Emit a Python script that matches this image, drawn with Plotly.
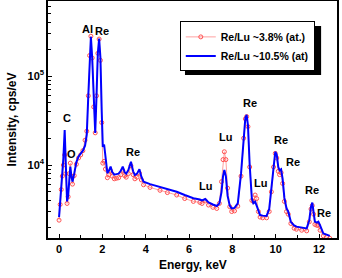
import math
import plotly.graph_objects as go

energy = [0.00, 0.05, 0.10, 0.15, 0.20, 0.26, 0.31, 0.37, 0.42, 0.47, 0.52, 0.57, 0.62, 0.70, 0.80,
          0.90, 1.00, 1.10, 1.20, 1.28, 1.35, 1.41, 1.47, 1.53, 1.60, 1.67, 1.73, 1.79, 1.85, 1.91,
          1.97, 2.02, 2.08, 2.14, 2.23, 2.30, 2.38, 2.45, 2.55, 2.65, 2.75, 2.85, 2.94, 3.03, 3.10,
          3.20, 3.32, 3.42, 3.50, 3.60, 3.71, 3.80, 3.90, 4.20, 4.66, 5.00, 5.43, 5.80, 6.20, 6.50,
          6.60, 6.75, 6.90, 7.10, 7.28, 7.40, 7.50, 7.57, 7.63, 7.70, 7.78, 7.88, 7.97, 8.10, 8.25,
          8.40, 8.52, 8.60, 8.66, 8.72, 8.80, 8.90, 8.97, 9.05, 9.12, 9.20, 9.28, 9.40, 9.58, 9.70,
          9.80, 9.90, 9.98, 10.05, 10.12, 10.18, 10.25, 10.32, 10.40, 10.50, 10.58, 10.70, 10.85, 10.96, 11.20,
          11.43, 11.55, 11.63, 11.69, 11.75, 11.81, 11.90, 11.97, 12.05, 12.20, 12.35, 12.50]

re_lu_10_5 = [2600, 3800, 5600, 8000, 12000, 24700, 9000, 3900, 4500, 7000, 9600, 7500, 6500, 8000, 10800,
              12500, 13500, 14500, 16500, 22000, 60000, 170000, 276000, 160000, 45000, 22900, 60000, 180000, 264000, 160000,
              40000, 16000, 17000, 12000, 8100, 8600, 9600, 8400, 7800, 7900, 8000, 8600, 9600, 8300, 8000,
              8800, 10900, 8500, 7700, 8000, 8950, 7400, 6500, 6100, 5700, 5350, 5000, 4600, 4230, 4100,
              4000, 4150, 3800, 3600, 3460, 3700, 5000, 7500, 8790, 7500, 4500, 3500, 3260, 3300, 3700,
              8000, 22000, 34000, 36500, 28000, 10000, 4200, 3720, 3870, 3500, 3000, 2740, 2700, 2680, 3200,
              5500, 10000, 14100, 13000, 9500, 8700, 8950, 7000, 4300, 3260, 3000, 2300, 2100, 2030, 2000,
              1940, 2400, 3400, 3780, 3000, 2310, 2250, 2310, 2100, 1700, 1650, 1600]

re_lu_3_8 = [2400, 3600, 5300, 7500, 10000, 13000, 8000, 3700, 4400, 8000, 10500, 7500, 6100, 7600, 10200,
             12000, 13000, 14500, 19000, 24000, 60000, 170000, 280000, 160000, 45000, 23000, 60000, 180000, 260000, 150000,
             30000, 10500, 11000, 9000, 7200, 7800, 8600, 7500, 7000, 7100, 7200, 7800, 8700, 7600, 7300,
             8000, 9800, 7800, 7000, 7300, 8100, 6800, 6000, 5600, 5200, 4900, 4600, 4200, 3900, 3800,
             3700, 3950, 3550, 3350, 3250, 3700, 6500, 11500, 14100, 11500, 5500, 3400, 3000, 3050, 3450,
             7500, 20000, 33000, 35000, 27000, 9500, 4000, 3900, 4600, 4200, 3000, 2600, 2550, 2550, 3000,
             5000, 9500, 13500, 12000, 8500, 7800, 8200, 6200, 3900, 3000, 2800, 2200, 1950, 1900, 1850,
             1820, 2300, 3200, 3500, 2800, 2150, 2100, 2100, 1850, 1600, 1550, 1500]

series_names = ["Re/Lu ~3.8% (at.)", "Re/Lu ~10.5% (at)"]

peak_labels = ["C", "O", "Al", "Re", "Re", "Lu", "Lu", "Re", "Lu", "Re", "Re", "Re", "Re"]
peak_label_x = [0.38, 0.57, 1.31, 2.0, 3.43, 6.78, 7.68, 8.81, 9.28, 10.23, 10.81, 11.66, 12.23]
peak_label_y = [33500, 13300, 335000, 324000, 13900, 5810, 20500, 49300, 6220, 19100, 10900, 5230, 2910]

x_ticks = [0, 2, 4, 6, 8, 10, 12]
y_major = [1e4, 1e5]
y_major_text = ["10<sup>4</sup>", "10<sup>5</sup>"]
y_minor = [2e3, 3e3, 4e3, 5e3, 6e3, 7e3, 8e3, 9e3,
           2e4, 3e4, 4e4, 5e4, 6e4, 7e4, 8e4, 9e4,
           2e5, 3e5, 4e5, 5e5, 6e5, 7e5]

FONT = "Liberation Sans, Arial, sans-serif"

fig = go.Figure()
fig.add_trace(go.Scatter(
    x=energy, y=re_lu_3_8, name=series_names[0], mode="lines+markers",
    line=dict(color="#ffa0a0", width=1),
    marker=dict(symbol="circle-open", size=4, color="#ff5050", line=dict(width=1)),
))
fig.add_trace(go.Scatter(
    x=energy, y=re_lu_10_5, name=series_names[1], mode="lines",
    line=dict(color="#0000ff", width=2),
))

for t, x, y in zip(peak_labels, peak_label_x, peak_label_y):
    fig.add_annotation(x=x, y=math.log10(y), yref="y", xref="x", text=f"<b>{t}</b>", showarrow=False,
                       font=dict(family=FONT, size=11, color="black"))

# axis titles
fig.add_annotation(x=0.5, y=-0.114, xref="paper", yref="paper", text="<b>Energy, keV</b>",
                   showarrow=False, yanchor="middle", font=dict(family=FONT, size=12, color="black"))
fig.add_annotation(x=-0.125, y=0.5, xref="paper", yref="paper", text="<b>Intensity, cps/eV</b>",
                   textangle=-90, showarrow=False, xanchor="center",
                   font=dict(family=FONT, size=12, color="black"))

# legend drop shadow
fig.add_shape(type="rect", xref="paper", yref="paper", x0=0.474, x1=0.945, y0=0.688, y1=0.895,
              fillcolor="black", line=dict(width=0), layer="below")

fig.update_layout(
    width=342, height=278,
    margin=dict(l=48, r=5, t=1, b=40, autoexpand=False),
    paper_bgcolor="white", plot_bgcolor="white",
    font=dict(family=FONT, size=11, color="black"),
    showlegend=True,
    legend=dict(x=0.456, y=0.914, xanchor="left", yanchor="top",
                bgcolor="white", bordercolor="black", borderwidth=1,
                font=dict(family=FONT, size=10.5, color="black", weight="bold"),
                itemwidth=30, tracegroupgap=0),
)
fig.update_xaxes(
    range=[-0.51, 12.83], showgrid=False, zeroline=False, automargin=False,
    showline=True, linecolor="black", linewidth=1.5, mirror=True,
    ticks="inside", ticklen=4, tickwidth=1.2, tickcolor="black",
    tickvals=x_ticks, ticktext=[f"<b>{v}</b>" for v in x_ticks],
    tickfont=dict(family=FONT, size=11),
    minor=dict(dtick=1, tick0=0, ticks="inside", ticklen=3, tickcolor="black", showgrid=False),
)
fig.update_yaxes(
    type="log", range=[3.18, 5.843], showgrid=False, zeroline=False, automargin=False,
    showline=True, linecolor="black", linewidth=1.5, mirror=True,
    ticks="inside", ticklen=4, tickwidth=1.2, tickcolor="black",
    tickvals=y_major, ticktext=[f"<b>{t}</b>" for t in y_major_text],
    tickfont=dict(family=FONT, size=11),
    minor=dict(tickvals=y_minor, ticks="inside", ticklen=3, tickcolor="black", showgrid=False),
)

fig.write_html("out.html", config={"displayModeBar": False},
               post_script="document.body.style.margin='0';document.body.style.overflow='hidden';")
